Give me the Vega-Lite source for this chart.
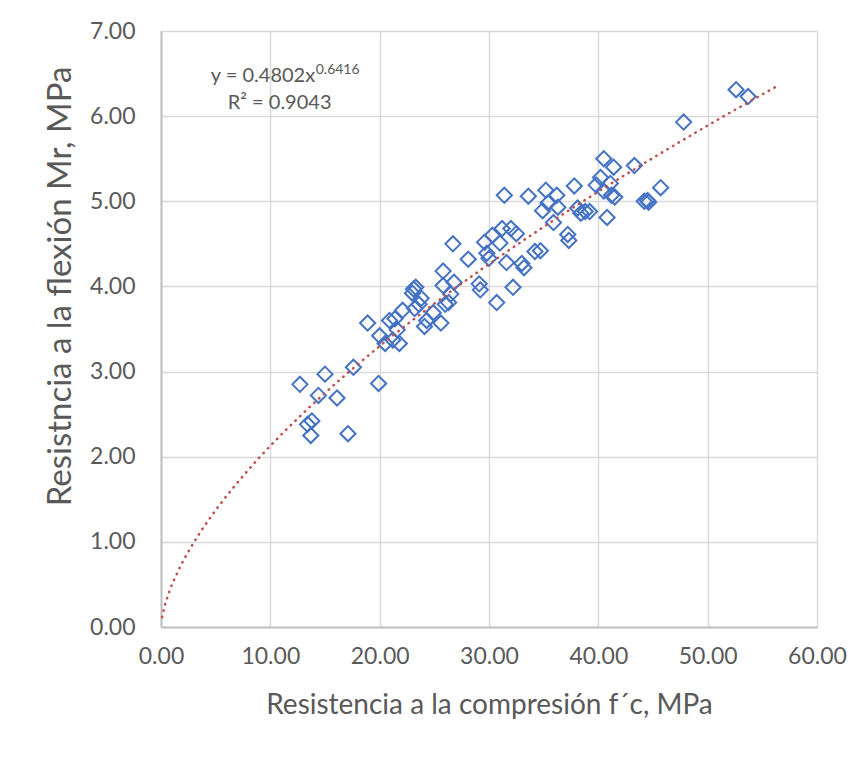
{
  "$schema": "https://vega.github.io/schema/vega-lite/v6.json",
  "width": 656,
  "height": 596,
  "autosize": "none",
  "padding": {"left": 161, "top": 31, "right": 49, "bottom": 136},
  "background": "white",
  "config": {
    "view": {"stroke": null},
    "font": "Lato",
    "axis": {
      "labelFont": "Lato",
      "titleFont": "Lato",
      "labelColor": "#595959",
      "titleColor": "#595959",
      "labelFontSize": 23,
      "titleFontSize": 28,
      "titleFontWeight": "normal",
      "gridColor": "#d9d9d9",
      "gridWidth": 1.5,
      "domainColor": "#bfbfbf",
      "domainWidth": 2,
      "ticks": false,
      "labelFlush": false
    }
  },
  "datasets": {
    "points": [
      {"fc": 12.7, "mr": 2.85}, {"fc": 13.4, "mr": 2.38}, {"fc": 13.7, "mr": 2.25}, {"fc": 13.8, "mr": 2.42},
      {"fc": 14.4, "mr": 2.72}, {"fc": 15.0, "mr": 2.97}, {"fc": 16.1, "mr": 2.69}, {"fc": 17.1, "mr": 2.27},
      {"fc": 17.6, "mr": 3.05}, {"fc": 18.9, "mr": 3.57}, {"fc": 19.9, "mr": 2.86}, {"fc": 20.0, "mr": 3.42},
      {"fc": 20.5, "mr": 3.33}, {"fc": 20.9, "mr": 3.60}, {"fc": 21.2, "mr": 3.37}, {"fc": 21.4, "mr": 3.62},
      {"fc": 21.8, "mr": 3.33}, {"fc": 21.6, "mr": 3.49}, {"fc": 22.1, "mr": 3.72}, {"fc": 23.0, "mr": 3.92},
      {"fc": 23.1, "mr": 3.97}, {"fc": 23.3, "mr": 3.99}, {"fc": 23.2, "mr": 3.74}, {"fc": 23.6, "mr": 3.79},
      {"fc": 23.8, "mr": 3.86}, {"fc": 24.1, "mr": 3.53}, {"fc": 24.3, "mr": 3.60}, {"fc": 24.9, "mr": 3.69},
      {"fc": 25.6, "mr": 3.57}, {"fc": 25.8, "mr": 4.18}, {"fc": 25.8, "mr": 4.01}, {"fc": 26.0, "mr": 3.79},
      {"fc": 26.3, "mr": 3.81}, {"fc": 26.5, "mr": 3.91}, {"fc": 26.7, "mr": 4.50}, {"fc": 26.8, "mr": 4.05},
      {"fc": 28.1, "mr": 4.32}, {"fc": 29.1, "mr": 4.03}, {"fc": 29.2, "mr": 3.96}, {"fc": 29.6, "mr": 4.52},
      {"fc": 29.8, "mr": 4.39}, {"fc": 30.0, "mr": 4.33}, {"fc": 30.3, "mr": 4.60}, {"fc": 30.7, "mr": 3.81},
      {"fc": 31.0, "mr": 4.51}, {"fc": 31.2, "mr": 4.68}, {"fc": 31.4, "mr": 5.07}, {"fc": 31.6, "mr": 4.28},
      {"fc": 32.0, "mr": 4.68}, {"fc": 32.2, "mr": 3.99}, {"fc": 32.5, "mr": 4.62}, {"fc": 33.0, "mr": 4.27},
      {"fc": 33.2, "mr": 4.22}, {"fc": 33.6, "mr": 5.06}, {"fc": 34.2, "mr": 4.41}, {"fc": 34.7, "mr": 4.42},
      {"fc": 34.9, "mr": 4.89}, {"fc": 35.2, "mr": 5.13}, {"fc": 35.4, "mr": 4.98}, {"fc": 35.9, "mr": 4.75},
      {"fc": 36.2, "mr": 5.07}, {"fc": 36.3, "mr": 4.93}, {"fc": 37.2, "mr": 4.61}, {"fc": 37.3, "mr": 4.54},
      {"fc": 37.8, "mr": 5.18}, {"fc": 38.1, "mr": 4.92}, {"fc": 38.4, "mr": 4.86}, {"fc": 38.8, "mr": 4.88},
      {"fc": 39.2, "mr": 4.88}, {"fc": 39.8, "mr": 5.19}, {"fc": 40.2, "mr": 5.28}, {"fc": 40.5, "mr": 5.50},
      {"fc": 40.5, "mr": 5.12}, {"fc": 40.8, "mr": 4.81}, {"fc": 41.1, "mr": 5.21}, {"fc": 41.2, "mr": 5.07},
      {"fc": 41.4, "mr": 5.40}, {"fc": 41.5, "mr": 5.05}, {"fc": 43.3, "mr": 5.42}, {"fc": 44.2, "mr": 5.00},
      {"fc": 44.6, "mr": 4.99}, {"fc": 44.5, "mr": 5.01}, {"fc": 45.7, "mr": 5.16}, {"fc": 47.8, "mr": 5.93},
      {"fc": 52.6, "mr": 6.31}, {"fc": 53.7, "mr": 6.23}
    ]
  },
  "data": {"name": "points"},
  "layer": [
    {
      "mark": {"type": "point", "shape": "diamond", "filled": false, "stroke": "#4472C4", "strokeWidth": 2, "size": 230, "opacity": 1},
      "encoding": {
        "x": {"field": "fc", "type": "quantitative", "scale": {"domain": [0, 60], "nice": false},
              "axis": {"values": [0, 10, 20, 30, 40, 50, 60], "format": ".2f", "labelPadding": 18,
                       "title": "Resistencia a la compresión f´c, MPa", "titleY": 78, "titleBaseline": "middle"}},
        "y": {"field": "mr", "type": "quantitative", "scale": {"domain": [0, 7], "nice": false},
              "axis": {"values": [0, 1, 2, 3, 4, 5, 6, 7], "format": ".2f", "labelPadding": 26,
                       "title": "Resistncia a la flexión Mr, MPa", "titleFontSize": 33, "titleX": -101, "titleY": 255, "titleAngle": -90, "titleBaseline": "middle", "titleAlign": "center"}}
      }
    },
    {
      "transform": [{"regression": "mr", "on": "fc", "method": "pow", "extent": [0.1, 56.3]}],
      "mark": {"type": "line", "color": "#C0504D", "strokeWidth": 2.5, "strokeDash": [0.5, 6], "strokeCap": "round"},
      "encoding": {
        "x": {"field": "fc", "type": "quantitative"},
        "y": {"field": "mr", "type": "quantitative"}
      }
    },
    {
      "data": {"values": [{}]},
      "mark": {"type": "text", "text": "y = 0.4802x", "align": "right", "baseline": "middle", "fontSize": 20, "color": "#595959", "font": "Lato"},
      "encoding": {"x": {"datum": 14.1}, "y": {"datum": 6.47}}
    },
    {
      "data": {"values": [{}]},
      "mark": {"type": "text", "text": "0.6416", "align": "left", "baseline": "middle", "fontSize": 14, "color": "#595959", "font": "Lato"},
      "encoding": {"x": {"datum": 14.15}, "y": {"datum": 6.54}}
    },
    {
      "data": {"values": [{}]},
      "mark": {"type": "text", "text": "R² = 0.9043", "align": "center", "baseline": "middle", "fontSize": 20, "color": "#595959", "font": "Lato"},
      "encoding": {"x": {"datum": 10.85}, "y": {"datum": 6.15}}
    }
  ]
}
